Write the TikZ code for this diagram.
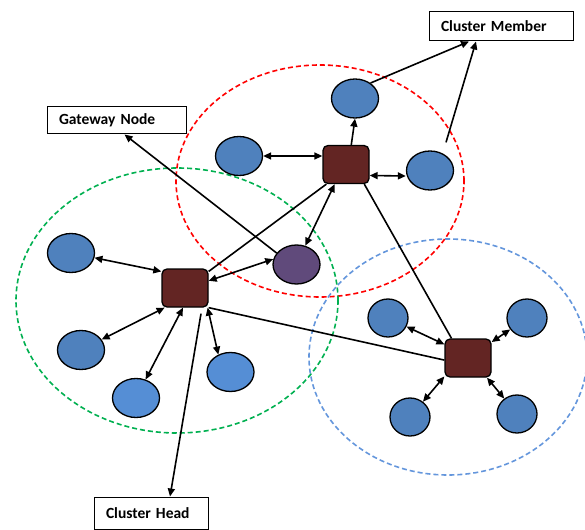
\documentclass[tikz,border=0pt]{standalone}
\usepackage{fontspec}
\setmainfont{Carlito}
\usepackage{xcolor}
\usetikzlibrary{shapes.geometric,arrows.meta,positioning}
\definecolor{memberblue}{RGB}{79,129,189}
\definecolor{memberlight}{RGB}{85,142,213}
\definecolor{headred}{RGB}{99,37,35}
\definecolor{gatepurple}{RGB}{96,74,123}
\definecolor{ringred}{RGB}{255,0,0}
\definecolor{ringgreen}{RGB}{0,176,80}
\definecolor{ringblue}{RGB}{100,150,220}

\tikzset{
  ring/.style={line width=1.6pt,dash pattern=on 5pt off 3pt},
  member/.style={ellipse,draw=black,line width=1.3pt,fill=memberblue,
    minimum width=47pt,minimum height=39pt,inner sep=0pt},
  headbox/.style={rectangle,rounded corners=5pt,draw=black,line width=1.3pt,
    fill=headred,minimum width=46pt,minimum height=38pt,inner sep=0pt},
  labelbox/.style={draw,line width=1pt,fill=white,align=left,inner xsep=12pt,
    inner ysep=0pt,font=\fontsize{15.5}{17}\selectfont\bfseries},
  link/.style={line width=1.6pt},
  arr/.style={link,-{Triangle[length=8pt,width=7pt]}},
  dblarr/.style={link,{Triangle[length=8pt,width=7pt]}-{Triangle[length=8pt,width=7pt]}}
}

\begin{document}
\begin{tikzpicture}[x=1pt,y=-1pt]
  \useasboundingbox (0,0) rectangle (585,529);

  % cluster rings
  \draw[ring,ringred]   (320,181) ellipse [x radius=144pt,y radius=116pt];
  \draw[ring,ringgreen] (177,300.5) ellipse [x radius=161pt,y radius=132.5pt];
  \draw[ring,ringblue]  (448,357) ellipse [x radius=139pt,y radius=118pt];

  % cluster heads
  \node[headbox] (rch) at (346,164.5) {};
  \node[headbox] (gch) at (185,288) {};
  \node[headbox] (bch) at (468,358) {};

  % members of the red cluster
  \node[member] (rm1) at (355,98.5) {};
  \node[member] (rm2) at (239,156) {};
  \node[member] (rm3) at (430,170.5) {};

  % members of the green cluster
  \node[member] (gm1) at (71,253) {};
  \node[member] (gm2) at (81,350) {};
  \node[member,fill=memberlight] (gm3) at (136,398) {};
  \node[member,fill=memberlight] (gm4) at (230.5,372) {};

  % members of the blue cluster (rounder)
  \foreach \n/\x/\y in {bm1/388/318,bm2/527/318,bm3/410/417,bm4/517/414}
    \node[member,minimum width=40pt,minimum height=38pt] (\n) at (\x,\y) {};

  % gateway between red and green
  \node[member,fill=gatepurple] (gw) at (296.5,264.5) {};

  % labels
  \node[labelbox,text width=120pt,minimum height=29pt] (cmlabel) at (501,26.5) {Cluster Member};
  \node[labelbox,text width=115pt,minimum height=27pt] (gwlabel) at (116.5,120.5) {Gateway Node};
  \node[labelbox,text width=90pt,minimum height=32pt] (chlabel) at (151,513) {Cluster Head};

  % red cluster links
  \draw[dblarr] (rm2.east) -- (rm2.east -| rch.west);
  \draw[arr] (rch.75) -- (rm1.south);
  \draw[dblarr] ([yshift=-11pt]rch.east) -- ([yshift=-5.5pt]rm3.west);

  % green cluster links
  \foreach \m/\a in {gm1/145,gm2/-136,gm3/-96}
    \draw[dblarr] (\m) -- (gch.\a);
  \draw[dblarr] (gch.-41) -- (gm4.125);

  % blue cluster links
  \foreach \m/\a in {bm1/150,bm2/34,bm3/-142,bm4/-46}
    \draw[dblarr] (\m) -- (bch.\a);

  % links between heads and the gateway
  \draw[link] (rch.-47) -- (bch.130);
  \draw[link] (gch.35) -- (rch.-135);
  \draw[link] (gch.south east) -- (bch.185);
  \draw[dblarr] (rch.-120) -- (gw.65);
  \draw[dblarr] (gw.167) -- (gch.17);

  % pointers to the labels
  \draw[arr] (rm1.45) -- ([xshift=-32pt]cmlabel.south);
  \draw[arr] ([xshift=16pt,yshift=8pt]rm3.north) -- ([xshift=-25pt]cmlabel.south);
  \draw[arr] (gw.150) -- ([xshift=8pt]gwlabel.south);
  \draw[arr] ([xshift=16pt,yshift=-6pt]gch.south) -- ([xshift=19pt]chlabel.north);
\end{tikzpicture}
\end{document}
